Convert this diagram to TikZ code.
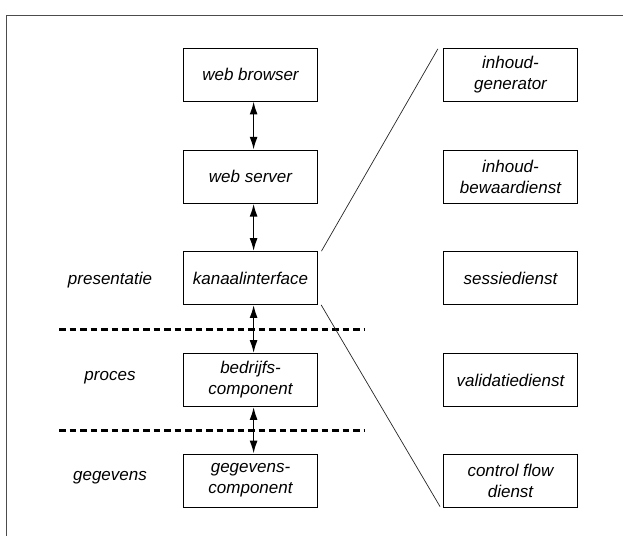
\documentclass[tikz,border=0pt]{standalone}
\usepackage{fontspec}
\setmainfont{Liberation Sans}
\usetikzlibrary{arrows.meta,calc}
\begin{document}
\begin{tikzpicture}[x=1pt,y=-1pt,
  box/.style={draw=black,line width=0.8pt,minimum width=134.5pt,minimum height=53pt,inner sep=0pt,align=center,font=\fontsize{17}{21}\selectfont\itshape},
  lbl/.style={font=\fontsize{17}{21}\selectfont\itshape,inner sep=0pt},
  dbl/.style={line width=1.7pt,{Latex[length=13pt,width=8pt]}-{Latex[length=13pt,width=8pt]}},
  sep/.style={line width=2.6pt,dash pattern=on 6.5pt off 4pt},
  zoomline/.style={line width=0.7pt,draw=black!85}]
\useasboundingbox (0,0) rectangle (623,536);
% frame
\coordinate (ftl) at (6.5,15);
\coordinate (ftr) at (623,15);
\coordinate (fbl) at (6.5,536);
\draw[line width=1pt,draw=black!70] (ftr) -- (ftl) -- (fbl);
% left column
\node[box] (wb) at (250.5,74.5) {web browser};
\node[box] (ws) at (250.5,176.7) {web server};
\node[box] (ki) at (250.5,278) {kanaalinterface};
\node[box] (bc) at (250.5,380) {bedrijfs-\\component};
\node[box] (gc) at (250.5,480.5) {gegevens-\\component};
% right column
\node[box] (ig) at (510.5,74.5) {inhoud-\\generator};
\node[box] (ib) at (510.5,176.5) {inhoud-\\bewaardienst};
\node[box] (sd) at (510.5,278) {sessiedienst};
\node[box] (vd) at (510.5,380.3) {validatiedienst};
\node[box] (cf) at (510.5,480.7) {control flow\\dienst};
% layer labels
\node[lbl] (lp) at (110,280) {presentatie};
\node[lbl] (lr) at (110,378) {proces};
\node[lbl] (lg) at (110,478) {gegevens};
% separators
\coordinate (d1a) at (59,329.5);
\coordinate (d1b) at (364,329.5);
\coordinate (d2a) at (59,430.7);
\coordinate (d2b) at (364,430.7);
\draw[sep] (d1a) -- (d1b);
\draw[sep] (d2a) -- (d2b);
% arrows
\coordinate (ax) at (253.6,0);
\draw[dbl] (wb.south -| ax) -- (ws.north -| ax);
\draw[dbl] (ws.south -| ax) -- (ki.north -| ax);
\draw[dbl] (ki.south -| ax) -- (bc.north -| ax);
\draw[dbl] (bc.south -| ax) -- (gc.north -| ax);
% zoom lines
\draw[zoomline] ($(ki.north east)+(3.3,0)$) -- ($(ig.north west)+(-5,1.3)$);
\draw[zoomline] ($(ki.south east)+(3,0)$) -- ($(cf.south west)+(-2.8,-1)$);
\end{tikzpicture}
\end{document}
